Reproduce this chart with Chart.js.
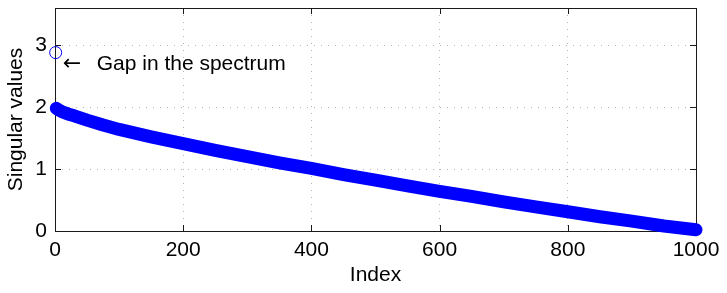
<!DOCTYPE html>
<html>
<head>
<meta charset="utf-8">
<script src="https://cdn.jsdelivr.net/npm/chart.js@4.4.1/dist/chart.umd.min.js"></script>
<style>
  body { margin: 0; background: #fff; }
  #wrap { width: 727px; height: 293px; }
</style>
</head>
<body>
<div id="wrap"><canvas id="svChart"></canvas></div>
<script>
// singular values, sorted
const indices = [2, 5, 10, 20, 30, 50, 75, 100, 150, 200, 250, 300, 350, 400, 450,
                 500, 550, 600, 650, 700, 750, 800, 850, 900, 950, 1000];
const singularValues = [1.98, 1.96, 1.93, 1.89, 1.86, 1.79, 1.71, 1.64, 1.52, 1.41, 1.30, 1.20, 1.10, 1.01, 0.91,
                        0.82, 0.73, 0.64, 0.56, 0.47, 0.39, 0.31, 0.23, 0.16, 0.08, 0.02];
// the outlier at the top
const gapIndex = [1];
const gapValue = [2.88];

const xTicks = [0, 200, 400, 600, 800, 1000];
const yTicks = [0, 1, 2, 3];

const BLUE = '#0000ff';
const FONT = "'Liberation Sans', Arial, Helvetica, sans-serif";

// box around the axes + inward tick marks (matlab style)
const boxPlugin = {
  id: 'boxPlugin',
  beforeDatasetsDraw(chart) {
    const { ctx, chartArea: a, scales } = chart;
    ctx.save();
    ctx.strokeStyle = '#1a1a1a';
    ctx.lineWidth = 1;
    ctx.strokeRect(Math.round(a.left) + 0.5, Math.round(a.top) + 0.5,
                   Math.round(a.right - a.left), Math.round(a.bottom - a.top));
    ctx.beginPath();
    xTicks.forEach(v => {
      const x = Math.round(scales.x.getPixelForValue(v)) + 0.5;
      ctx.moveTo(x, a.bottom); ctx.lineTo(x, a.bottom - 6);
      ctx.moveTo(x, a.top); ctx.lineTo(x, a.top + 6);
    });
    yTicks.forEach(v => {
      const y = Math.round(scales.y.getPixelForValue(v)) + 0.5;
      ctx.moveTo(a.left, y); ctx.lineTo(a.left + 6, y);
      ctx.moveTo(a.right, y); ctx.lineTo(a.right - 6, y);
    });
    ctx.stroke();
    ctx.restore();
  }
};

// "<- Gap in the spectrum"
const notePlugin = {
  id: 'notePlugin',
  afterDatasetsDraw(chart) {
    const { ctx, scales } = chart;
    const x = scales.x.getPixelForValue(12);
    const y = scales.y.getPixelForValue(2.7);
    ctx.save();
    ctx.fillStyle = '#000';
    ctx.textBaseline = 'middle';
    ctx.font = "22px 'DejaVu Sans', sans-serif";
    ctx.fillText('\u2190', x, y + 1);
    ctx.font = '21px ' + FONT;
    ctx.fillText('Gap in the spectrum', x + 34, y);
    ctx.restore();
  }
};

new Chart(document.getElementById('svChart'), {
  type: 'scatter',
  data: {
    datasets: [{
      data: indices.map((x, i) => ({ x: x, y: singularValues[i] })),
      showLine: true,
      borderColor: BLUE,
      borderWidth: 13,
      borderCapStyle: 'round',
      borderJoinStyle: 'round',
      pointRadius: 0,
      clip: false
    }, {
      data: gapIndex.map((x, i) => ({ x: x, y: gapValue[i] })),
      showLine: false,
      pointRadius: 6,
      pointBackgroundColor: 'rgba(0,0,0,0)',
      pointBorderColor: BLUE,
      pointBorderWidth: 1,
      clip: false
    }]
  },
  options: {
    responsive: true,
    maintainAspectRatio: false,
    animation: false,
    layout: { padding: { top: 8, right: 31, left: 0, bottom: 0 } },
    plugins: { legend: { display: false }, tooltip: { enabled: false } },
    scales: {
      x: {
        type: 'linear', min: 0, max: 1000,
        afterBuildTicks: s => { s.ticks = xTicks.map(v => ({ value: v })); },
        afterFit: s => { s.height = 62; s.paddingLeft = 0; s.paddingRight = 0; },
        grid: { color: '#b4b4b4', lineWidth: 1, drawTicks: false },
        border: { display: false, dash: [1, 6] },
        ticks: { padding: 7, color: '#000', maxRotation: 0, autoSkip: false,
                 callback: v => String(v),
                 font: { family: FONT, size: 21 } },
        title: { display: true, text: 'Index', color: '#000',
                 font: { family: FONT, size: 21 }, padding: { top: 0, bottom: 5 } }
      },
      y: {
        type: 'linear', min: 0, max: 3.6,
        afterBuildTicks: s => { s.ticks = yTicks.map(v => ({ value: v })); },
        afterFit: s => { s.width = 55; s.paddingTop = 0; s.paddingBottom = 0; },
        grid: { color: '#b4b4b4', lineWidth: 1, drawTicks: false },
        border: { display: false, dash: [1, 6] },
        ticks: { padding: 8, color: '#000', callback: v => String(v),
                 font: { family: FONT, size: 21 } },
        title: { display: true, text: 'Singular values', color: '#000',
                 font: { family: FONT, size: 21 }, padding: { top: 4, bottom: 0 } }
      }
    }
  },
  plugins: [boxPlugin, notePlugin]
});
</script>
</body>
</html>
